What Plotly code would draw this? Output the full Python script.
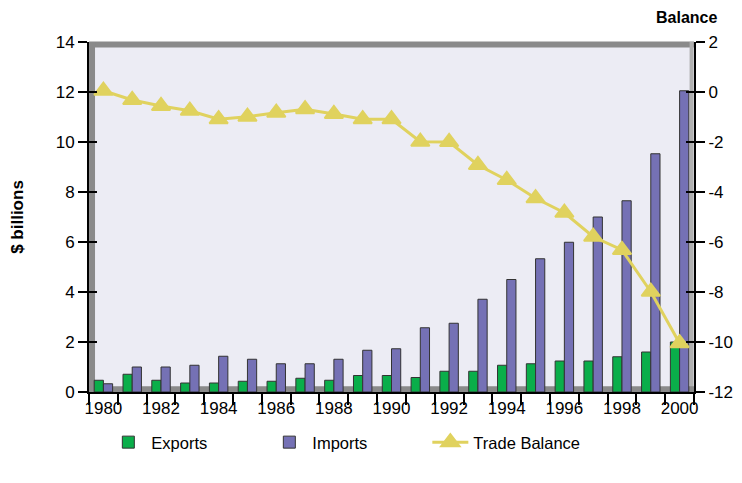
import plotly.graph_objects as go

years = list(range(1980, 2001))
exports = [0.47, 0.71, 0.47, 0.36, 0.36, 0.43, 0.43, 0.55, 0.47, 0.66, 0.66,
           0.58, 0.83, 0.83, 1.07, 1.13, 1.24, 1.24, 1.41, 1.60, 2.00]
imports = [0.33, 1.00, 1.00, 1.07, 1.43, 1.31, 1.13, 1.13, 1.31, 1.67, 1.73,
           2.57, 2.75, 3.71, 4.50, 5.33, 5.99, 7.00, 7.65, 9.53, 12.05]
balance = [0.05, -0.32, -0.56, -0.75, -1.09, -0.99, -0.83, -0.69, -0.88, -1.09, -1.09,
           -1.99, -2.00, -2.92, -3.52, -4.25, -4.83, -5.79, -6.32, -7.99, -10.05]
x_tick_years = list(range(1980, 2001, 2))
x_tick_labels = [str(y) for y in x_tick_years]
left_ticks = list(range(0, 15, 2))
left_labels = [str(v) for v in left_ticks]
right_ticks = list(range(-12, 3, 2))
right_labels = [str(v) for v in right_ticks]  # ASCII hyphen like the original

font = "Liberation Sans, Arial, sans-serif"

fig = go.Figure()
fig.add_trace(go.Bar(x=years, y=exports, name="Exports",
                     marker=dict(color="#0aae4a", line=dict(color="#333333", width=1))))
fig.add_trace(go.Bar(x=years, y=imports, name="Imports",
                     marker=dict(color="#7571b5", line=dict(color="#333333", width=1))))
fig.add_trace(go.Scatter(x=years, y=balance, name="Trade Balance", yaxis="y2",
                         mode="lines+markers",
                         line=dict(color="#e0d25e", width=3),
                         marker=dict(symbol="triangle-up", size=16, color="#e0d25e",
                                     line=dict(color="#e0d25e", width=2))))
# empty helper traces so the inner-tick axes (y3, y4) are rendered
for ax in ("y3", "y4"):
    fig.add_trace(go.Scatter(x=[], y=[], yaxis=ax, showlegend=False, hoverinfo="skip"))

# page body has an 8px margin, so the figure's margins are reduced by 8 px
fig.update_layout(
    width=742, height=483,
    margin=dict(l=81, r=56, t=34, b=99, autoexpand=False),
    paper_bgcolor="white",
    plot_bgcolor="#ececf4",
    font=dict(family=font, size=17, color="#000000"),
    barmode="group",
    bargap=0.36,
    bargroupgap=0,
    showlegend=True,
    legend=dict(orientation="h", x=0.027, xanchor="left", y=-0.094, yanchor="top",
                font=dict(size=16.5), entrywidth=110, traceorder="normal",
                itemwidth=36, bgcolor="rgba(0,0,0,0)"),
    xaxis=dict(range=[1979.5, 2000.5], tickvals=x_tick_years,
               ticktext=x_tick_labels, ticks="", showgrid=False, zeroline=False,
               automargin=False,
               showline=True, linecolor="#000000", linewidth=2,
               minor=dict(ticks="outside", ticklen=11, tick0=1979.5, dtick=1,
                          tickcolor="#000000", tickwidth=2, showgrid=False)),
    yaxis=dict(range=[0, 14], tickvals=left_ticks, ticktext=left_labels,
               ticks="outside", ticklen=9, tickwidth=2,
               tickcolor="#000000", showgrid=False, zeroline=False, automargin=False,
               showline=True, linecolor="#000000", linewidth=2,
               title=dict(text="<b>$ billions</b>", font=dict(size=17), standoff=30)),
    yaxis2=dict(range=[-12, 2], tickvals=right_ticks, ticktext=right_labels,
                overlaying="y", side="right", automargin=False,
                ticks="outside", ticklen=9, tickwidth=2, tickcolor="#000000",
                showgrid=False, zeroline=False, showline=True,
                linecolor="#000000", linewidth=2),
    yaxis3=dict(range=[0, 14], tickvals=left_ticks, overlaying="y", side="left",
                ticks="inside", ticklen=8, tickwidth=2, tickcolor="#000000",
                showticklabels=False, showgrid=False, zeroline=False,
                showline=False, automargin=False),
    yaxis4=dict(range=[-12, 2], tickvals=right_ticks, overlaying="y", side="right",
                ticks="inside", ticklen=8, tickwidth=2, tickcolor="#000000",
                showticklabels=False, showgrid=False, zeroline=False,
                showline=False, automargin=False),
    shapes=[
        dict(type="line", xref="paper", yref="paper", x0=0.0, x1=1.0, y0=0.993, y1=0.993,
             line=dict(color="#8a8a8a", width=6), layer="below"),
        dict(type="line", xref="paper", yref="paper", x0=0.005, x1=0.005, y0=0.0, y1=1.0,
             line=dict(color="#8a8a8a", width=6), layer="below"),
        dict(type="line", xref="paper", yref="paper", x0=0.996, x1=0.996, y0=0.0, y1=1.0,
             line=dict(color="#b0b0b0", width=4), layer="below"),
        dict(type="line", xref="paper", yref="paper", x0=0.0, x1=1.0, y0=0.008, y1=0.008,
             line=dict(color="#8a8a8a", width=6), layer="below"),
    ],
    annotations=[
        dict(text="<b>Balance</b>", xref="paper", yref="paper", x=0.988, y=1.0,
             xanchor="center", yanchor="bottom", yshift=14, showarrow=False,
             font=dict(size=16)),
    ],
)

fig.write_html("out.html")
